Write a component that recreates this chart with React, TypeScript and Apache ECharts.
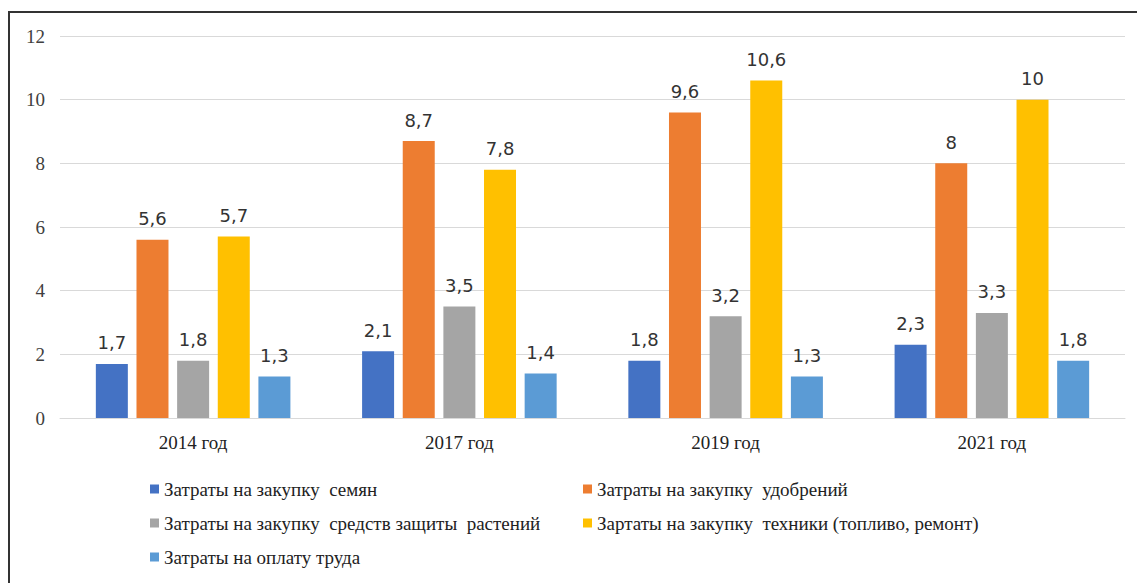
import React, { useEffect, useRef } from "react";
import * as echarts from "echarts";

const categories = ["2014 год", "2017 год", "2019 год", "2021 год"];
const seriesNames = [
  "Затраты на закупку  семян",
  "Затраты на закупку  удобрений",
  "Затраты на закупку  средств защиты  растений",
  "Зартаты на закупку  техники (топливо, ремонт)",
  "Затраты на оплату труда",
];
const seeds = [1.7, 2.1, 1.8, 2.3];
const fertilizers = [5.6, 8.7, 9.6, 8];
const protection = [1.8, 3.5, 3.2, 3.3];
const machinery = [5.7, 7.8, 10.6, 10];
const labour = [1.3, 1.4, 1.3, 1.8];
const yTicks = [0, 2, 4, 6, 8, 10, 12];
const colors = ["#4472C4", "#ED7D31", "#A5A5A5", "#FFC000", "#5B9BD5"];

const seriesData = [seeds, fertilizers, protection, machinery, labour];
const legendPos = [
  { left: 150, top: 479 },
  { left: 583, top: 479 },
  { left: 150, top: 513 },
  { left: 583, top: 513 },
  { left: 150, top: 547 },
];

const SERIF = "'Liberation Serif', 'Times New Roman', serif";

export default function App() {
  const ref = useRef<HTMLDivElement>(null);
  useEffect(() => {
    document.body.style.margin = "0";
    const chart = echarts.init(ref.current!, null, { renderer: "svg" });
    chart.setOption({
      animation: false,
      backgroundColor: "#ffffff",
      textStyle: { fontFamily: SERIF },
      graphic: [
        {
          type: "rect",
          shape: { x: 9, y: 12, width: 1140, height: 590 },
          style: { fill: "none", stroke: "#333333", lineWidth: 2 },
          silent: true,
        },
      ],
      grid: { left: 60, right: 12, top: 36, bottom: 165 },
      legend: seriesNames.map((n, i) => ({
        data: [n],
        left: legendPos[i].left,
        top: legendPos[i].top,
        padding: 0,
        itemWidth: 9,
        itemHeight: 9,
        itemGap: 6,
        icon: "rect",
        textStyle: {
          fontFamily: SERIF,
          fontSize: 19,
          lineHeight: 20,
          color: "#222222",
          padding: [0, 0, 0, 0],
        },
      })),
      xAxis: {
        type: "category",
        data: categories,
        axisLine: { show: true, lineStyle: { color: "#d9d9d9", width: 1 } },
        axisTick: { show: false },
        axisLabel: {
          fontFamily: SERIF,
          fontSize: 19,
          color: "#222222",
          margin: 15,
        },
      },
      yAxis: {
        type: "value",
        min: yTicks[0],
        max: yTicks[yTicks.length - 1],
        interval: 2,
        axisLine: { show: false },
        axisTick: { show: false },
        splitLine: { lineStyle: { color: "#d9d9d9", width: 1 } },
        axisLabel: {
          fontFamily: SERIF,
          fontSize: 19,
          color: "#404040",
          margin: 15,
        },
      },
      series: seriesNames.map((n, i) => ({
        name: n,
        type: "bar",
        data: seriesData[i],
        barWidth: 32,
        barGap: "27%",
        itemStyle: { color: colors[i] },
        label: {
          show: true,
          position: "top",
          distance: 12,
          fontFamily: "'DejaVu Sans', sans-serif",
          fontSize: 18,
          color: "#333333",
          formatter: (p: any) => String(p.value).replace(".", ","),
        },
      })),
    });
    return () => chart.dispose();
  }, []);
  return (
    <div
      ref={ref}
      style={{ position: "absolute", left: 0, top: 0, width: 1137, height: 583 }}
    />
  );
}
